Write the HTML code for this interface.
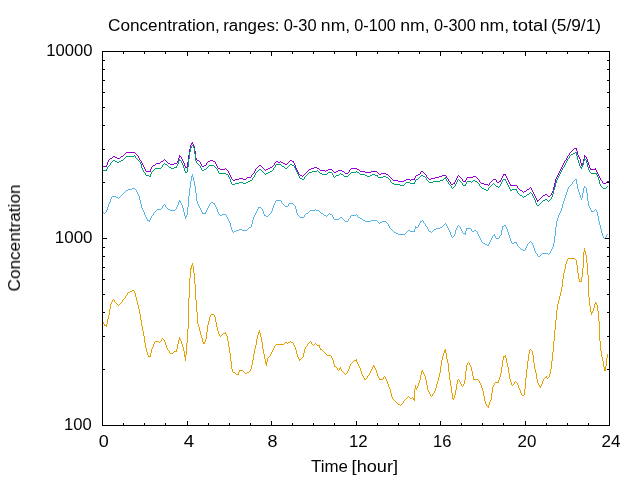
<!DOCTYPE html>
<html><head><meta charset="utf-8"><title>Concentration</title>
<style>html,body{margin:0;padding:0;background:#fff;overflow:hidden}body{width:640px;height:480px}</style>
</head><body>
<svg width="640" height="480" viewBox="0 0 640 480" shape-rendering="crispEdges" style="display:block">
<rect x="0" y="0" width="640" height="480" fill="#fff"/>
<path fill="#9400d3" d="M102 166h5v1h-5zM106 165h1v1h-1zM107 162h1v3h-1zM108 160h1v2h-1zM109 159h1v1h-1zM110 158h2v1h-2zM112 157h1v1h-1zM113 156h2v1h-2zM115 157h2v1h-2zM117 158h3v1h-3zM120 157h1v1h-1zM121 156h2v1h-2zM123 155h1v1h-1zM124 154h1v1h-1zM125 153h1v1h-1zM126 152h9v1h-9zM135 153h1v1h-1zM136 154h1v1h-1zM137 155h1v1h-1zM138 156h1v2h-1zM139 158h1v2h-1zM140 160h1v1h-1zM141 161h1v2h-1zM142 163h1v2h-1zM143 165h1v2h-1zM144 167h1v2h-1zM145 169h1v2h-1zM146 171h5v1h-5zM150 169h1v2h-1zM151 167h1v2h-1zM152 166h1v1h-1zM153 165h2v1h-2zM155 164h1v1h-1zM156 163h4v1h-4zM160 162h1v1h-1zM161 161h2v1h-2zM163 160h1v1h-1zM164 159h1v1h-1zM165 160h1v1h-1zM166 161h1v1h-1zM167 162h1v1h-1zM168 163h2v1h-2zM170 164h4v1h-4zM174 163h3v1h-3zM177 161h1v2h-1zM178 158h1v3h-1zM179 155h1v1h-1zM179 156h2v1h-2zM179 157h1v1h-1zM181 157h1v2h-1zM182 159h1v2h-1zM183 161h1v2h-1zM184 163h1v3h-1zM185 166h1v1h-1zM185 167h2v1h-2zM187 162h1v5h-1zM188 155h1v7h-1zM189 149h1v6h-1zM190 145h1v4h-1zM191 143h2v1h-2zM191 144h1v1h-1zM192 142h1v1h-1zM193 144h1v2h-1zM194 146h1v5h-1zM195 151h1v7h-1zM196 158h1v2h-1zM197 160h2v1h-2zM199 161h1v1h-1zM200 162h1v2h-1zM201 164h1v2h-1zM202 166h2v1h-2zM204 165h2v1h-2zM206 163h1v2h-1zM207 162h1v1h-1zM208 161h2v1h-2zM210 160h3v1h-3zM213 161h2v1h-2zM215 162h1v2h-1zM216 164h1v2h-1zM217 166h1v2h-1zM218 168h2v1h-2zM220 169h5v1h-5zM225 168h1v1h-1zM226 169h1v1h-1zM227 170h1v1h-1zM228 171h1v2h-1zM229 173h1v2h-1zM230 175h1v2h-1zM231 177h1v2h-1zM232 179h1v1h-1zM233 180h2v1h-2zM235 179h4v1h-4zM239 178h4v1h-4zM243 179h3v1h-3zM246 178h1v1h-1zM247 177h4v1h-4zM251 175h1v2h-1zM252 174h1v1h-1zM253 173h1v1h-1zM254 171h1v2h-1zM255 169h1v2h-1zM256 168h1v1h-1zM257 167h1v1h-1zM258 166h1v1h-1zM259 165h2v1h-2zM261 166h1v1h-1zM262 167h1v1h-1zM263 168h1v1h-1zM264 169h1v1h-1zM265 170h1v1h-1zM266 169h2v1h-2zM268 168h2v1h-2zM270 167h2v1h-2zM272 166h1v1h-1zM273 165h1v1h-1zM274 163h1v2h-1zM275 162h1v1h-1zM276 161h2v1h-2zM278 162h2v1h-2zM280 161h1v1h-1zM281 162h2v1h-2zM283 163h2v1h-2zM285 164h2v1h-2zM287 163h1v1h-1zM288 162h1v1h-1zM289 161h1v1h-1zM290 160h2v1h-2zM292 161h2v1h-2zM293 162h1v1h-1zM294 163h1v2h-1zM295 165h1v3h-1zM296 168h1v2h-1zM297 170h1v2h-1zM298 172h1v2h-1zM299 174h1v1h-1zM300 175h2v1h-2zM302 176h1v1h-1zM303 175h1v1h-1zM304 174h1v1h-1zM305 173h1v1h-1zM306 172h1v1h-1zM307 171h1v1h-1zM308 170h1v1h-1zM309 169h2v1h-2zM311 168h3v1h-3zM314 167h3v1h-3zM317 168h2v1h-2zM319 169h1v1h-1zM320 170h5v1h-5zM325 171h1v1h-1zM326 170h2v1h-2zM328 169h4v1h-4zM332 170h1v1h-1zM333 171h1v1h-1zM334 172h2v1h-2zM336 171h2v1h-2zM338 170h4v1h-4zM342 171h2v1h-2zM344 172h1v1h-1zM345 173h3v1h-3zM348 172h1v1h-1zM349 170h1v2h-1zM350 169h1v1h-1zM351 168h6v1h-6zM357 169h2v1h-2zM359 170h1v1h-1zM360 171h5v1h-5zM365 172h6v1h-6zM371 171h6v1h-6zM377 172h1v1h-1zM378 173h1v1h-1zM379 174h2v1h-2zM381 173h5v1h-5zM386 174h2v1h-2zM388 175h1v1h-1zM389 176h1v1h-1zM390 177h1v1h-1zM391 178h1v1h-1zM392 179h1v1h-1zM393 180h5v1h-5zM398 181h6v1h-6zM404 180h2v1h-2zM406 179h4v1h-4zM410 180h1v1h-1zM411 179h4v1h-4zM414 178h1v1h-1zM415 176h1v2h-1zM416 175h2v1h-2zM418 174h2v1h-2zM420 172h1v2h-1zM421 171h2v1h-2zM423 172h1v1h-1zM424 173h1v1h-1zM425 174h1v1h-1zM426 175h1v2h-1zM427 177h1v1h-1zM428 178h1v1h-1zM429 179h2v1h-2zM431 178h4v1h-4zM435 177h4v1h-4zM439 176h3v1h-3zM442 175h4v1h-4zM446 176h1v2h-1zM447 178h1v1h-1zM448 179h1v2h-1zM449 181h1v1h-1zM450 182h1v2h-1zM451 184h2v1h-2zM453 183h2v1h-2zM454 182h1v1h-1zM455 180h1v2h-1zM456 178h1v2h-1zM457 176h1v2h-1zM458 175h1v1h-1zM459 176h1v1h-1zM460 177h1v1h-1zM461 178h1v1h-1zM462 179h1v2h-1zM463 181h3v1h-3zM465 180h1v1h-1zM466 178h1v2h-1zM467 177h6v1h-6zM473 176h3v1h-3zM476 177h1v1h-1zM477 178h1v1h-1zM478 179h1v1h-1zM479 180h1v2h-1zM480 182h1v1h-1zM481 183h3v1h-3zM484 184h4v1h-4zM488 185h1v1h-1zM489 183h1v2h-1zM490 182h1v1h-1zM491 181h1v1h-1zM492 180h1v1h-1zM493 179h3v1h-3zM496 180h1v2h-1zM497 182h2v1h-2zM499 181h2v1h-2zM500 180h1v1h-1zM501 178h1v2h-1zM502 176h1v2h-1zM503 174h3v1h-3zM503 175h1v1h-1zM505 175h1v1h-1zM506 176h1v2h-1zM507 178h1v2h-1zM508 180h1v2h-1zM509 182h1v2h-1zM510 184h1v1h-1zM510 185h7v1h-7zM517 186h1v2h-1zM518 188h1v1h-1zM519 189h1v1h-1zM520 190h2v1h-2zM522 191h1v1h-1zM523 192h1v1h-1zM524 191h2v1h-2zM526 190h1v1h-1zM527 189h2v1h-2zM529 188h1v1h-1zM530 187h1v1h-1zM531 188h1v2h-1zM532 190h1v2h-1zM533 192h1v2h-1zM534 194h1v2h-1zM535 196h1v2h-1zM536 198h1v2h-1zM537 200h2v1h-2zM537 201h1v1h-1zM539 199h1v1h-1zM540 198h1v1h-1zM541 197h1v1h-1zM542 196h1v1h-1zM543 195h2v1h-2zM545 194h2v1h-2zM547 195h1v1h-1zM548 196h2v1h-2zM550 195h1v1h-1zM551 193h1v2h-1zM552 191h1v2h-1zM553 187h1v4h-1zM554 183h1v4h-1zM555 179h1v4h-1zM556 177h1v2h-1zM557 175h1v2h-1zM558 173h1v2h-1zM559 171h1v2h-1zM560 169h1v2h-1zM561 167h1v2h-1zM562 165h1v2h-1zM563 163h1v2h-1zM564 161h1v2h-1zM565 160h1v1h-1zM566 158h1v2h-1zM567 156h1v2h-1zM568 155h1v1h-1zM569 153h1v2h-1zM570 152h1v1h-1zM571 151h1v1h-1zM572 150h1v1h-1zM573 149h1v1h-1zM574 148h3v1h-3zM576 149h1v2h-1zM577 151h1v4h-1zM578 155h1v2h-1zM579 157h1v2h-1zM580 159h1v4h-1zM581 163h2v2h-2zM581 165h1v1h-1zM583 159h1v4h-1zM584 155h1v1h-1zM584 156h2v1h-2zM584 157h1v2h-1zM586 157h1v2h-1zM587 159h1v3h-1zM588 162h1v3h-1zM589 165h1v3h-1zM590 168h1v1h-1zM590 169h6v1h-6zM595 168h1v1h-1zM596 170h1v2h-1zM597 172h1v2h-1zM598 174h1v2h-1zM599 176h1v2h-1zM600 178h1v2h-1zM601 180h1v1h-1zM602 181h1v2h-1zM603 183h3v1h-3zM606 182h1v1h-1zM607 181h2v1h-2z"/>
<path fill="#009e73" d="M102 170h5v1h-5zM106 169h1v1h-1zM107 167h1v2h-1zM108 166h1v1h-1zM109 165h1v1h-1zM110 163h1v2h-1zM111 162h1v1h-1zM112 161h1v1h-1zM113 160h2v1h-2zM115 161h2v1h-2zM117 162h2v1h-2zM119 161h2v1h-2zM121 160h2v1h-2zM123 159h1v1h-1zM124 158h1v1h-1zM125 157h1v1h-1zM126 156h8v1h-8zM134 155h1v1h-1zM135 156h1v2h-1zM136 158h1v1h-1zM137 159h1v1h-1zM138 160h1v1h-1zM139 161h1v1h-1zM140 162h1v2h-1zM141 164h1v4h-1zM142 168h1v2h-1zM143 170h1v2h-1zM144 172h1v1h-1zM145 173h1v2h-1zM146 175h3v1h-3zM149 176h2v1h-2zM150 174h1v2h-1zM151 172h1v2h-1zM152 171h1v1h-1zM153 170h1v1h-1zM154 169h1v1h-1zM155 168h6v1h-6zM161 167h1v1h-1zM162 165h1v2h-1zM163 164h1v1h-1zM164 163h1v1h-1zM165 164h2v1h-2zM167 165h1v1h-1zM168 166h1v1h-1zM169 167h2v1h-2zM171 168h3v1h-3zM174 167h3v1h-3zM176 166h1v1h-1zM177 164h1v2h-1zM178 161h1v3h-1zM179 159h1v1h-1zM179 160h2v1h-2zM181 161h1v2h-1zM182 163h1v2h-1zM183 165h1v3h-1zM184 168h1v3h-1zM185 171h1v1h-1zM185 172h2v1h-2zM187 167h1v5h-1zM188 159h1v8h-1zM189 152h1v7h-1zM190 148h1v4h-1zM191 146h1v2h-1zM192 145h1v1h-1zM193 146h1v2h-1zM194 148h1v6h-1zM195 154h1v7h-1zM196 161h1v2h-1zM197 163h1v1h-1zM198 164h1v1h-1zM199 165h1v1h-1zM200 166h1v2h-1zM201 168h1v2h-1zM202 170h2v1h-2zM204 169h2v1h-2zM206 168h1v1h-1zM207 167h1v1h-1zM208 166h1v1h-1zM209 165h5v1h-5zM214 166h1v1h-1zM215 167h1v1h-1zM216 168h1v1h-1zM217 169h1v2h-1zM218 171h1v2h-1zM219 173h7v1h-7zM226 174h2v1h-2zM228 175h1v2h-1zM229 177h1v2h-1zM230 179h1v3h-1zM231 182h1v2h-1zM232 184h3v1h-3zM235 183h4v1h-4zM239 182h4v1h-4zM243 183h3v1h-3zM246 182h2v1h-2zM248 181h2v1h-2zM250 180h2v1h-2zM252 178h1v2h-1zM253 177h1v1h-1zM254 175h1v2h-1zM255 173h1v2h-1zM256 172h1v1h-1zM257 171h1v1h-1zM258 170h1v1h-1zM259 169h2v1h-2zM261 170h1v1h-1zM262 171h1v1h-1zM263 172h1v1h-1zM264 173h1v1h-1zM265 174h1v1h-1zM266 173h2v1h-2zM268 172h2v1h-2zM270 171h2v1h-2zM272 170h1v1h-1zM273 168h1v2h-1zM274 167h1v1h-1zM275 165h1v2h-1zM276 164h5v1h-5zM281 165h1v1h-1zM282 166h2v1h-2zM284 167h1v1h-1zM285 168h2v1h-2zM287 167h1v1h-1zM288 166h1v1h-1zM289 165h1v1h-1zM290 164h2v1h-2zM292 165h2v1h-2zM294 166h1v2h-1zM295 168h1v2h-1zM296 170h1v2h-1zM297 172h1v2h-1zM298 174h1v2h-1zM299 176h1v2h-1zM300 178h2v1h-2zM302 179h2v1h-2zM304 177h1v2h-1zM305 176h1v1h-1zM306 175h1v1h-1zM307 174h1v1h-1zM308 173h1v1h-1zM309 172h3v1h-3zM312 171h5v1h-5zM317 170h1v1h-1zM318 171h1v1h-1zM319 172h1v1h-1zM320 173h2v1h-2zM322 174h5v1h-5zM327 173h1v1h-1zM328 172h4v1h-4zM332 173h1v2h-1zM333 175h1v2h-1zM334 177h1v1h-1zM335 176h1v1h-1zM336 175h3v1h-3zM339 174h1v1h-1zM340 173h1v1h-1zM341 174h2v1h-2zM343 175h1v1h-1zM344 176h4v1h-4zM348 175h1v1h-1zM349 174h1v1h-1zM350 173h1v1h-1zM351 172h5v1h-5zM356 171h1v1h-1zM357 172h2v1h-2zM359 173h1v1h-1zM360 174h5v1h-5zM365 175h2v1h-2zM367 176h3v1h-3zM370 175h2v1h-2zM372 174h3v1h-3zM375 175h3v1h-3zM377 176h1v1h-1zM378 177h5v1h-5zM383 176h3v1h-3zM386 177h2v1h-2zM388 178h1v1h-1zM389 179h1v1h-1zM390 180h1v2h-1zM391 182h1v1h-1zM392 183h2v1h-2zM394 184h6v1h-6zM400 185h4v1h-4zM404 184h1v1h-1zM405 183h1v1h-1zM406 182h4v1h-4zM410 183h5v1h-5zM414 182h1v1h-1zM415 180h1v2h-1zM416 179h2v1h-2zM418 178h1v1h-1zM419 177h1v1h-1zM420 176h1v1h-1zM421 175h2v1h-2zM423 176h2v1h-2zM425 177h1v1h-1zM426 178h1v2h-1zM427 180h1v1h-1zM428 181h1v1h-1zM429 182h4v1h-4zM433 181h7v1h-7zM440 180h3v1h-3zM443 179h1v1h-1zM444 178h2v1h-2zM445 177h1v1h-1zM446 179h1v2h-1zM447 181h1v1h-1zM448 182h1v2h-1zM449 184h1v1h-1zM450 185h1v1h-1zM451 186h1v2h-1zM452 188h1v1h-1zM453 187h1v1h-1zM454 186h1v1h-1zM455 184h1v2h-1zM456 182h1v2h-1zM457 180h1v2h-1zM458 179h1v1h-1zM459 180h1v1h-1zM460 181h1v1h-1zM461 182h1v1h-1zM462 183h1v2h-1zM463 185h3v1h-3zM465 184h1v1h-1zM466 182h1v2h-1zM467 181h4v1h-4zM471 182h1v1h-1zM472 181h1v1h-1zM473 180h2v1h-2zM475 181h2v1h-2zM477 182h1v1h-1zM478 183h1v1h-1zM479 184h1v2h-1zM480 186h1v1h-1zM481 187h1v1h-1zM482 188h2v1h-2zM484 189h2v1h-2zM486 190h2v1h-2zM488 188h1v2h-1zM489 187h1v1h-1zM490 186h1v1h-1zM491 185h1v1h-1zM492 184h1v1h-1zM493 183h1v1h-1zM494 184h1v1h-1zM495 185h1v1h-1zM496 186h2v1h-2zM498 187h1v1h-1zM499 186h1v1h-1zM500 184h1v2h-1zM501 182h1v2h-1zM502 180h1v2h-1zM503 179h3v1h-3zM505 180h1v1h-1zM506 181h1v2h-1zM507 183h1v2h-1zM508 185h1v2h-1zM509 187h1v2h-1zM510 189h1v1h-1zM510 190h2v1h-2zM512 189h5v1h-5zM516 190h1v1h-1zM517 191h1v2h-1zM518 193h1v1h-1zM519 194h1v1h-1zM520 195h2v1h-2zM522 196h1v1h-1zM523 197h1v1h-1zM524 196h2v1h-2zM526 195h1v1h-1zM527 194h2v1h-2zM529 193h1v1h-1zM530 192h1v1h-1zM531 193h1v1h-1zM532 194h1v2h-1zM533 196h1v2h-1zM534 198h1v2h-1zM535 200h1v3h-1zM536 203h1v2h-1zM537 205h2v1h-2zM539 204h1v1h-1zM540 203h1v1h-1zM541 202h1v1h-1zM542 201h1v1h-1zM543 200h2v1h-2zM545 199h2v1h-2zM547 200h1v1h-1zM548 201h1v1h-1zM549 200h1v1h-1zM550 199h1v1h-1zM551 197h1v2h-1zM552 194h1v3h-1zM553 190h1v4h-1zM554 187h1v3h-1zM555 183h1v4h-1zM556 180h1v3h-1zM557 178h1v2h-1zM558 176h1v2h-1zM559 174h1v2h-1zM560 172h1v2h-1zM561 170h1v2h-1zM562 168h1v2h-1zM563 167h1v1h-1zM564 165h1v2h-1zM565 163h1v2h-1zM566 161h1v2h-1zM567 159h1v2h-1zM568 158h1v1h-1zM569 156h1v2h-1zM570 155h1v1h-1zM571 154h2v1h-2zM573 153h2v1h-2zM575 152h2v1h-2zM576 153h1v3h-1zM577 156h1v4h-1zM578 160h1v3h-1zM579 163h1v3h-1zM580 166h1v1h-1zM580 167h2v1h-2zM581 168h1v1h-1zM582 165h1v2h-1zM583 161h1v4h-1zM584 158h1v1h-1zM584 159h2v1h-2zM584 160h1v1h-1zM586 160h1v3h-1zM587 163h1v4h-1zM588 167h1v3h-1zM589 170h1v2h-1zM590 172h1v1h-1zM591 173h6v1h-6zM596 174h1v1h-1zM597 175h1v2h-1zM598 177h1v3h-1zM599 180h1v4h-1zM600 184h1v2h-1zM601 186h1v1h-1zM602 187h1v1h-1zM603 188h3v1h-3zM606 187h1v1h-1zM607 186h1v1h-1z"/>
<path fill="#56b4e9" d="M102 211h1v1h-1zM103 212h1v1h-1zM104 213h1v1h-1zM105 212h1v1h-1zM106 210h1v2h-1zM107 207h1v3h-1zM108 204h1v3h-1zM109 202h1v2h-1zM110 199h1v3h-1zM111 197h1v2h-1zM112 196h4v1h-4zM116 197h2v1h-2zM118 198h1v1h-1zM119 197h1v1h-1zM120 196h1v1h-1zM121 195h1v1h-1zM122 194h1v1h-1zM123 193h1v1h-1zM124 192h1v1h-1zM125 191h1v1h-1zM126 190h2v1h-2zM128 189h4v1h-4zM132 188h3v1h-3zM135 189h1v1h-1zM136 190h1v2h-1zM137 192h1v2h-1zM138 194h1v2h-1zM139 196h1v4h-1zM140 200h1v4h-1zM141 204h1v4h-1zM142 208h1v2h-1zM143 210h1v2h-1zM144 212h1v3h-1zM145 215h1v2h-1zM146 217h1v2h-1zM147 219h1v1h-1zM147 220h3v1h-3zM149 221h1v1h-1zM150 218h1v2h-1zM151 216h1v2h-1zM152 215h1v1h-1zM153 213h1v2h-1zM154 212h1v1h-1zM155 211h1v1h-1zM156 210h1v1h-1zM157 209h4v1h-4zM161 208h1v1h-1zM162 206h1v2h-1zM163 205h1v1h-1zM164 204h1v1h-1zM165 205h1v2h-1zM166 207h1v1h-1zM167 208h1v1h-1zM168 209h2v1h-2zM170 210h5v1h-5zM175 209h1v1h-1zM176 207h1v2h-1zM177 205h1v2h-1zM178 202h1v3h-1zM179 200h1v1h-1zM179 201h2v1h-2zM180 202h1v1h-1zM181 203h1v2h-1zM182 205h1v3h-1zM183 208h1v4h-1zM184 212h1v4h-1zM185 216h2v1h-2zM185 217h1v2h-1zM186 215h1v1h-1zM187 207h1v8h-1zM188 196h1v11h-1zM189 188h1v8h-1zM190 181h1v7h-1zM191 176h2v1h-2zM191 177h1v4h-1zM192 174h1v2h-1zM193 177h1v4h-1zM194 181h1v5h-1zM195 186h1v7h-1zM196 193h1v8h-1zM197 201h1v3h-1zM198 204h1v2h-1zM199 206h1v2h-1zM200 208h1v2h-1zM201 210h1v2h-1zM202 212h1v1h-1zM202 213h4v1h-4zM205 212h1v1h-1zM206 210h1v2h-1zM207 208h1v2h-1zM208 206h1v2h-1zM209 204h1v2h-1zM210 203h1v1h-1zM211 202h2v1h-2zM213 203h2v1h-2zM214 204h1v1h-1zM215 205h1v2h-1zM216 207h1v2h-1zM217 209h1v3h-1zM218 212h1v2h-1zM219 214h1v1h-1zM220 215h2v1h-2zM222 214h4v1h-4zM226 215h1v2h-1zM227 217h1v2h-1zM228 219h1v2h-1zM229 221h1v2h-1zM230 223h1v4h-1zM231 227h1v3h-1zM232 230h1v2h-1zM233 232h1v1h-1zM234 231h2v1h-2zM236 230h3v1h-3zM239 229h3v1h-3zM242 230h5v1h-5zM247 229h1v1h-1zM248 228h1v1h-1zM249 227h2v1h-2zM251 224h1v3h-1zM252 220h1v4h-1zM253 217h1v3h-1zM254 215h1v2h-1zM255 213h1v2h-1zM256 211h1v2h-1zM257 209h1v2h-1zM258 207h3v1h-3zM258 208h1v1h-1zM261 208h1v1h-1zM262 209h1v2h-1zM263 211h1v3h-1zM264 214h1v1h-1zM264 215h2v1h-2zM266 216h2v1h-2zM268 215h1v1h-1zM269 214h1v1h-1zM270 213h1v1h-1zM271 211h1v2h-1zM272 208h1v3h-1zM273 205h1v3h-1zM274 203h1v2h-1zM275 201h1v2h-1zM276 200h5v1h-5zM281 201h1v2h-1zM282 203h1v1h-1zM283 204h1v1h-1zM284 205h1v1h-1zM285 206h3v1h-3zM288 204h1v2h-1zM289 203h4v1h-4zM293 204h1v1h-1zM294 205h1v1h-1zM295 206h1v3h-1zM296 209h1v4h-1zM297 213h1v2h-1zM298 215h1v1h-1zM299 216h1v1h-1zM300 217h4v1h-4zM304 215h1v2h-1zM305 214h1v1h-1zM306 213h2v1h-2zM308 212h1v1h-1zM309 211h1v1h-1zM310 210h5v1h-5zM315 209h1v1h-1zM316 210h3v1h-3zM319 211h1v1h-1zM320 212h1v1h-1zM321 213h2v1h-2zM323 214h1v1h-1zM324 215h2v1h-2zM326 216h1v1h-1zM327 215h1v1h-1zM328 214h1v1h-1zM329 213h1v1h-1zM330 214h2v1h-2zM332 215h1v2h-1zM333 217h1v2h-1zM334 219h5v1h-5zM339 218h1v1h-1zM340 217h2v1h-2zM342 218h1v1h-1zM343 219h1v1h-1zM344 220h1v1h-1zM345 221h3v1h-3zM348 219h1v2h-1zM349 218h1v1h-1zM350 216h1v2h-1zM351 215h5v1h-5zM356 214h1v1h-1zM357 215h1v2h-1zM358 217h2v1h-2zM360 218h2v1h-2zM362 219h1v1h-1zM363 220h2v1h-2zM365 221h6v1h-6zM371 220h6v1h-6zM377 221h1v1h-1zM378 222h1v1h-1zM379 223h1v1h-1zM380 222h2v1h-2zM382 221h4v1h-4zM386 222h1v1h-1zM387 223h1v1h-1zM388 224h1v2h-1zM389 226h1v2h-1zM390 228h1v1h-1zM391 229h1v1h-1zM392 230h1v1h-1zM393 231h1v1h-1zM394 232h2v1h-2zM396 233h2v1h-2zM398 234h7v1h-7zM405 233h1v1h-1zM406 232h1v1h-1zM407 231h1v1h-1zM408 230h2v1h-2zM410 231h5v1h-5zM414 229h1v2h-1zM415 226h1v1h-1zM415 227h3v1h-3zM415 228h1v1h-1zM418 225h1v2h-1zM419 223h1v2h-1zM420 221h2v1h-2zM420 222h1v1h-1zM422 220h1v1h-1zM423 221h1v2h-1zM424 223h1v1h-1zM425 224h1v2h-1zM426 226h1v1h-1zM427 227h1v2h-1zM428 229h1v2h-1zM429 231h2v1h-2zM431 232h1v1h-1zM432 231h1v1h-1zM433 230h1v1h-1zM434 229h2v1h-2zM436 228h4v1h-4zM440 227h2v1h-2zM442 226h1v1h-1zM443 225h1v1h-1zM444 224h1v1h-1zM445 223h1v1h-1zM446 224h1v2h-1zM447 226h1v2h-1zM448 228h1v2h-1zM449 230h1v2h-1zM450 232h1v3h-1zM451 235h1v2h-1zM452 237h1v1h-1zM453 236h1v1h-1zM454 234h1v2h-1zM455 230h1v4h-1zM456 228h1v2h-1zM457 226h1v2h-1zM458 225h1v1h-1zM459 226h1v1h-1zM460 227h1v2h-1zM461 229h1v2h-1zM462 231h1v2h-1zM463 233h3v1h-3zM465 231h1v2h-1zM465 234h1v1h-1zM466 228h5v1h-5zM466 229h1v2h-1zM471 229h1v2h-1zM472 231h2v1h-2zM474 230h2v1h-2zM476 231h1v1h-1zM477 232h1v2h-1zM478 234h1v2h-1zM479 236h1v2h-1zM480 238h1v2h-1zM481 240h1v2h-1zM482 242h1v1h-1zM483 243h2v1h-2zM485 244h2v1h-2zM487 245h2v1h-2zM488 244h1v1h-1zM489 242h1v2h-1zM490 240h1v2h-1zM491 238h1v2h-1zM492 236h1v2h-1zM493 235h2v1h-2zM494 234h1v1h-1zM495 236h1v2h-1zM496 238h3v1h-3zM499 236h1v2h-1zM500 235h1v1h-1zM501 230h1v5h-1zM502 226h2v1h-2zM502 227h1v3h-1zM504 225h2v1h-2zM505 226h1v1h-1zM506 227h1v2h-1zM507 229h1v3h-1zM508 232h1v3h-1zM509 235h1v3h-1zM510 238h1v3h-1zM511 241h1v2h-1zM512 243h2v1h-2zM514 242h3v1h-3zM516 243h1v1h-1zM517 244h1v2h-1zM518 246h1v1h-1zM519 247h1v1h-1zM520 248h1v1h-1zM521 249h2v1h-2zM523 250h2v1h-2zM525 248h1v2h-1zM526 246h1v2h-1zM527 244h1v2h-1zM528 243h1v1h-1zM529 242h1v1h-1zM530 241h1v1h-1zM531 242h1v1h-1zM532 243h1v2h-1zM533 245h1v3h-1zM534 248h1v3h-1zM535 251h1v2h-1zM536 253h1v1h-1zM537 254h1v2h-1zM538 256h2v1h-2zM540 255h1v1h-1zM541 254h1v1h-1zM542 253h6v1h-6zM548 254h1v1h-1zM549 253h1v1h-1zM550 251h1v2h-1zM551 249h1v2h-1zM552 247h1v2h-1zM553 243h1v4h-1zM554 236h1v7h-1zM555 227h1v9h-1zM556 221h1v6h-1zM557 218h1v3h-1zM558 215h1v3h-1zM559 213h1v2h-1zM560 211h1v2h-1zM561 208h1v3h-1zM562 204h1v4h-1zM563 201h1v3h-1zM564 198h1v3h-1zM565 195h1v3h-1zM566 192h1v3h-1zM567 189h1v3h-1zM568 187h1v2h-1zM569 186h1v1h-1zM570 185h1v1h-1zM571 184h1v1h-1zM572 182h1v2h-1zM573 181h1v1h-1zM574 180h1v1h-1zM575 179h2v1h-2zM576 180h1v4h-1zM577 184h1v5h-1zM578 189h1v3h-1zM579 192h1v3h-1zM580 195h1v3h-1zM581 198h1v2h-1zM582 193h1v5h-1zM583 188h1v5h-1zM584 186h1v1h-1zM584 187h2v1h-2zM586 188h1v5h-1zM587 193h1v8h-1zM588 201h1v5h-1zM589 206h1v2h-1zM590 208h1v2h-1zM591 210h1v1h-1zM591 211h3v1h-3zM594 210h1v1h-1zM595 209h1v1h-1zM596 210h1v2h-1zM597 212h1v4h-1zM598 216h1v5h-1zM599 221h1v4h-1zM600 225h1v4h-1zM601 229h1v4h-1zM602 233h1v3h-1zM603 236h1v2h-1zM604 238h2v1h-2zM605 237h1v1h-1zM606 235h1v2h-1zM607 234h1v1h-1z"/>
<path fill="#e69f00" d="M102 320h1v2h-1zM103 322h1v2h-1zM104 324h1v1h-1zM104 325h3v1h-3zM106 324h1v1h-1zM106 326h1v1h-1zM107 319h1v5h-1zM108 315h1v4h-1zM109 309h1v6h-1zM110 304h1v5h-1zM111 302h1v2h-1zM112 300h1v2h-1zM113 299h1v1h-1zM114 300h1v2h-1zM115 302h1v1h-1zM116 303h1v1h-1zM117 304h1v1h-1zM118 305h1v1h-1zM119 304h1v1h-1zM120 303h1v1h-1zM121 302h1v1h-1zM122 300h1v2h-1zM123 299h1v1h-1zM124 298h1v1h-1zM125 296h1v2h-1zM126 295h1v1h-1zM127 293h1v2h-1zM128 292h2v1h-2zM130 291h2v1h-2zM132 290h2v1h-2zM134 291h1v2h-1zM135 293h1v4h-1zM136 297h1v4h-1zM137 301h1v4h-1zM138 305h1v4h-1zM139 309h1v5h-1zM140 314h1v6h-1zM141 320h1v6h-1zM142 326h1v5h-1zM143 331h1v5h-1zM144 336h1v7h-1zM145 343h1v5h-1zM146 348h1v4h-1zM147 352h1v3h-1zM148 355h1v1h-1zM148 356h3v1h-3zM150 353h1v3h-1zM151 349h1v4h-1zM152 347h1v2h-1zM153 344h1v3h-1zM154 342h1v2h-1zM155 341h4v1h-4zM159 342h1v1h-1zM160 341h1v1h-1zM161 339h1v2h-1zM162 338h1v1h-1zM163 339h1v1h-1zM164 340h1v2h-1zM165 342h1v3h-1zM166 345h1v3h-1zM167 348h1v2h-1zM168 350h1v1h-1zM169 351h1v2h-1zM170 353h3v1h-3zM173 352h1v1h-1zM174 351h3v1h-3zM176 349h1v2h-1zM177 344h1v5h-1zM178 340h1v4h-1zM179 337h1v2h-1zM179 339h2v1h-2zM180 340h1v1h-1zM181 341h1v3h-1zM182 344h1v3h-1zM183 347h1v4h-1zM184 351h1v4h-1zM184 355h2v2h-2zM185 357h1v4h-1zM186 343h1v12h-1zM187 329h1v14h-1zM188 298h1v31h-1zM189 278h1v20h-1zM190 268h2v1h-2zM190 269h1v9h-1zM191 265h2v1h-2zM191 266h1v2h-1zM192 263h1v2h-1zM193 266h1v7h-1zM194 273h1v11h-1zM195 284h1v16h-1zM196 300h1v12h-1zM197 312h1v12h-1zM198 324h1v3h-1zM199 327h1v4h-1zM200 331h1v4h-1zM201 335h1v3h-1zM202 338h1v4h-1zM203 342h2v2h-2zM205 339h1v3h-1zM206 332h1v7h-1zM207 325h1v7h-1zM208 321h1v4h-1zM209 317h1v4h-1zM210 315h1v2h-1zM211 314h3v1h-3zM214 315h1v2h-1zM215 317h1v5h-1zM216 322h1v5h-1zM217 327h1v4h-1zM218 331h1v3h-1zM219 334h1v2h-1zM220 336h1v1h-1zM221 335h1v1h-1zM222 334h1v1h-1zM223 333h3v1h-3zM225 332h1v1h-1zM226 334h1v2h-1zM227 336h1v5h-1zM228 341h1v6h-1zM229 347h1v6h-1zM230 353h1v8h-1zM231 361h1v8h-1zM232 369h1v3h-1zM233 372h2v1h-2zM235 373h1v1h-1zM236 374h3v1h-3zM238 372h1v2h-1zM239 370h4v1h-4zM239 371h1v1h-1zM243 371h1v1h-1zM244 372h1v1h-1zM245 373h2v1h-2zM247 372h2v1h-2zM249 371h1v1h-1zM250 369h1v2h-1zM251 365h1v4h-1zM252 360h1v5h-1zM253 354h1v6h-1zM254 349h1v5h-1zM255 345h1v4h-1zM256 339h1v6h-1zM257 335h1v4h-1zM258 332h2v1h-2zM258 333h1v2h-1zM259 330h1v2h-1zM260 333h1v4h-1zM261 337h1v5h-1zM262 342h1v7h-1zM263 349h1v5h-1zM264 354h1v5h-1zM265 359h1v3h-1zM265 362h2v2h-2zM266 364h1v2h-1zM267 358h1v4h-1zM268 357h1v1h-1zM269 356h1v1h-1zM270 354h1v2h-1zM271 352h1v2h-1zM272 350h1v2h-1zM273 348h1v2h-1zM274 346h1v2h-1zM275 345h1v1h-1zM276 344h8v1h-8zM284 343h1v1h-1zM285 342h2v1h-2zM287 343h1v1h-1zM288 342h2v1h-2zM290 341h1v1h-1zM291 342h2v1h-2zM293 343h1v2h-1zM294 345h1v2h-1zM295 347h1v3h-1zM296 350h1v4h-1zM297 354h1v3h-1zM298 357h1v2h-1zM299 359h2v1h-2zM299 360h1v1h-1zM301 358h1v1h-1zM302 357h1v1h-1zM303 353h1v4h-1zM304 349h1v4h-1zM305 347h1v2h-1zM306 346h1v1h-1zM307 344h1v2h-1zM308 343h1v1h-1zM309 342h1v1h-1zM310 341h1v1h-1zM311 342h1v2h-1zM312 344h1v1h-1zM313 345h1v1h-1zM314 344h1v1h-1zM315 343h1v1h-1zM316 344h1v1h-1zM317 345h3v1h-3zM319 346h1v2h-1zM320 348h1v1h-1zM320 349h2v1h-2zM322 350h1v1h-1zM323 351h1v1h-1zM324 352h1v1h-1zM325 353h1v1h-1zM326 354h1v1h-1zM327 355h4v1h-4zM331 356h1v2h-1zM332 358h1v2h-1zM333 360h1v4h-1zM334 364h1v2h-1zM334 366h2v1h-2zM336 367h1v1h-1zM337 368h1v2h-1zM338 370h1v1h-1zM339 368h2v1h-2zM339 369h1v1h-1zM340 367h1v1h-1zM341 369h1v2h-1zM342 371h1v1h-1zM343 372h1v1h-1zM344 373h1v1h-1zM345 374h1v1h-1zM346 373h1v1h-1zM347 371h1v2h-1zM348 369h1v2h-1zM349 366h1v3h-1zM350 364h1v2h-1zM351 363h1v1h-1zM352 362h1v1h-1zM353 361h1v1h-1zM354 360h3v1h-3zM356 359h1v1h-1zM356 361h1v1h-1zM357 362h1v2h-1zM358 364h1v2h-1zM359 366h1v2h-1zM360 368h1v3h-1zM361 371h1v3h-1zM362 374h1v2h-1zM363 376h1v2h-1zM364 378h1v1h-1zM364 379h2v1h-2zM366 378h1v1h-1zM367 376h1v2h-1zM368 375h1v1h-1zM369 373h1v2h-1zM370 371h1v2h-1zM371 369h1v2h-1zM372 367h1v2h-1zM373 365h1v1h-1zM373 366h2v1h-2zM374 367h1v1h-1zM375 368h1v2h-1zM376 370h1v3h-1zM377 373h1v3h-1zM378 376h1v2h-1zM379 378h1v1h-1zM379 379h4v1h-4zM383 377h1v2h-1zM384 376h1v1h-1zM385 377h1v2h-1zM386 379h1v2h-1zM387 381h1v3h-1zM388 384h1v3h-1zM389 387h1v2h-1zM390 389h1v4h-1zM391 393h1v4h-1zM392 397h1v2h-1zM393 399h1v1h-1zM394 400h1v1h-1zM395 401h1v1h-1zM396 402h1v1h-1zM397 403h1v1h-1zM398 404h2v1h-2zM400 405h1v1h-1zM401 404h1v1h-1zM402 403h1v1h-1zM403 401h1v2h-1zM404 400h1v1h-1zM405 399h1v1h-1zM406 398h1v1h-1zM407 397h1v1h-1zM408 396h1v1h-1zM409 397h1v1h-1zM410 398h2v1h-2zM412 397h1v1h-1zM413 398h2v2h-2zM414 389h1v9h-1zM414 400h1v1h-1zM415 385h1v3h-1zM415 388h2v1h-2zM416 389h1v1h-1zM417 386h1v2h-1zM418 383h1v3h-1zM419 380h1v3h-1zM420 375h1v5h-1zM421 371h2v1h-2zM421 372h1v3h-1zM422 370h1v1h-1zM423 372h1v2h-1zM424 374h1v2h-1zM425 376h1v4h-1zM426 380h1v5h-1zM427 385h1v5h-1zM428 390h1v2h-1zM429 392h1v2h-1zM430 394h1v2h-1zM431 396h1v1h-1zM432 394h1v2h-1zM433 393h1v1h-1zM434 391h1v2h-1zM435 388h1v3h-1zM436 384h1v4h-1zM437 381h1v3h-1zM438 377h1v4h-1zM439 373h1v4h-1zM440 366h1v7h-1zM441 360h1v6h-1zM442 356h1v4h-1zM443 353h1v3h-1zM444 350h2v3h-2zM445 349h1v1h-1zM446 353h1v6h-1zM447 359h1v4h-1zM448 363h1v9h-1zM449 372h1v8h-1zM450 380h1v6h-1zM451 386h1v7h-1zM452 393h1v5h-1zM452 398h2v1h-2zM453 399h1v1h-1zM454 395h1v3h-1zM455 390h1v5h-1zM456 384h1v6h-1zM457 380h1v4h-1zM458 379h1v1h-1zM459 380h1v2h-1zM460 382h1v2h-1zM461 384h1v2h-1zM462 386h1v1h-1zM463 384h1v2h-1zM464 380h1v4h-1zM465 371h1v9h-1zM466 365h1v6h-1zM467 363h1v2h-1zM468 362h1v1h-1zM469 363h1v2h-1zM470 365h1v2h-1zM471 367h1v4h-1zM472 371h1v5h-1zM473 376h1v3h-1zM473 379h5v1h-5zM478 380h1v1h-1zM479 381h1v2h-1zM480 383h1v2h-1zM481 385h1v3h-1zM482 388h1v3h-1zM483 391h1v5h-1zM484 396h1v5h-1zM485 401h1v3h-1zM486 404h1v2h-1zM487 406h2v1h-2zM488 405h1v1h-1zM488 407h1v1h-1zM489 402h1v3h-1zM490 400h1v2h-1zM491 393h1v7h-1zM492 387h1v6h-1zM493 385h1v2h-1zM494 383h1v2h-1zM495 382h4v1h-4zM498 380h1v2h-1zM499 377h1v3h-1zM500 373h1v4h-1zM501 367h1v6h-1zM502 360h1v7h-1zM503 356h3v1h-3zM503 357h1v3h-1zM505 355h1v1h-1zM505 357h1v1h-1zM506 358h1v5h-1zM507 363h1v4h-1zM508 367h1v6h-1zM509 373h1v6h-1zM510 379h1v3h-1zM511 382h1v3h-1zM512 385h1v1h-1zM513 384h1v1h-1zM514 382h1v2h-1zM515 381h1v1h-1zM516 382h1v1h-1zM517 383h1v2h-1zM518 385h1v3h-1zM519 388h1v2h-1zM520 390h1v3h-1zM521 393h1v2h-1zM522 395h2v1h-2zM524 389h1v6h-1zM525 378h1v11h-1zM526 369h1v9h-1zM527 361h1v8h-1zM528 354h1v7h-1zM529 350h1v4h-1zM530 349h1v1h-1zM531 350h1v1h-1zM532 351h1v4h-1zM533 355h1v8h-1zM534 363h1v6h-1zM535 369h1v4h-1zM536 373h1v6h-1zM537 379h1v4h-1zM538 383h1v2h-1zM539 385h1v1h-1zM539 386h2v1h-2zM540 387h1v1h-1zM541 384h1v2h-1zM542 381h1v3h-1zM543 379h1v2h-1zM544 378h1v1h-1zM545 377h2v1h-2zM546 376h1v1h-1zM547 378h1v1h-1zM548 377h1v1h-1zM549 374h1v3h-1zM550 369h1v5h-1zM551 361h1v8h-1zM552 352h1v9h-1zM553 341h1v11h-1zM554 330h1v11h-1zM555 320h1v10h-1zM556 310h1v10h-1zM557 304h1v6h-1zM558 300h1v4h-1zM559 296h1v4h-1zM560 292h1v4h-1zM561 287h1v5h-1zM562 279h1v8h-1zM563 273h1v6h-1zM564 269h1v4h-1zM565 264h1v5h-1zM566 261h1v3h-1zM567 259h1v2h-1zM568 258h7v1h-7zM575 259h1v1h-1zM576 260h1v5h-1zM577 265h1v8h-1zM578 273h1v6h-1zM579 279h1v2h-1zM579 281h3v1h-3zM581 277h1v4h-1zM582 268h1v9h-1zM583 252h1v16h-1zM584 248h1v3h-1zM584 251h2v1h-2zM585 252h1v3h-1zM586 255h1v8h-1zM587 263h1v12h-1zM588 275h1v22h-1zM589 297h1v9h-1zM590 306h1v6h-1zM591 312h2v1h-2zM591 313h1v2h-1zM592 311h1v1h-1zM593 308h1v3h-1zM594 304h1v4h-1zM595 302h1v1h-1zM595 303h2v1h-2zM596 304h1v1h-1zM597 305h1v6h-1zM598 311h1v10h-1zM599 321h1v20h-1zM600 341h1v10h-1zM601 351h1v6h-1zM602 357h1v4h-1zM603 361h1v6h-1zM604 367h2v4h-2zM605 366h1v1h-1zM606 358h1v8h-1zM607 354h1v4h-1z"/>
<path d="M102.5,425.5v-4.5M102.5,51.5v4.5M123.5,425.5v-2.5M123.5,51.5v2.5M144.5,425.5v-2.5M144.5,51.5v2.5M165.5,425.5v-2.5M165.5,51.5v2.5M187.5,425.5v-4.5M187.5,51.5v4.5M208.5,425.5v-2.5M208.5,51.5v2.5M229.5,425.5v-2.5M229.5,51.5v2.5M250.5,425.5v-2.5M250.5,51.5v2.5M271.5,425.5v-4.5M271.5,51.5v4.5M292.5,425.5v-2.5M292.5,51.5v2.5M313.5,425.5v-2.5M313.5,51.5v2.5M334.5,425.5v-2.5M334.5,51.5v2.5M356.5,425.5v-4.5M356.5,51.5v4.5M377.5,425.5v-2.5M377.5,51.5v2.5M398.5,425.5v-2.5M398.5,51.5v2.5M419.5,425.5v-2.5M419.5,51.5v2.5M440.5,425.5v-4.5M440.5,51.5v4.5M461.5,425.5v-2.5M461.5,51.5v2.5M482.5,425.5v-2.5M482.5,51.5v2.5M503.5,425.5v-2.5M503.5,51.5v2.5M525.5,425.5v-4.5M525.5,51.5v4.5M546.5,425.5v-2.5M546.5,51.5v2.5M567.5,425.5v-2.5M567.5,51.5v2.5M588.5,425.5v-2.5M588.5,51.5v2.5M609.5,425.5v-4.5M609.5,51.5v4.5M102.5,425.5h4.5M609.5,425.5h-4.5M102.5,369.5h2.5M609.5,369.5h-2.5M102.5,336.5h2.5M609.5,336.5h-2.5M102.5,312.5h2.5M609.5,312.5h-2.5M102.5,294.5h2.5M609.5,294.5h-2.5M102.5,279.5h2.5M609.5,279.5h-2.5M102.5,267.5h2.5M609.5,267.5h-2.5M102.5,256.5h2.5M609.5,256.5h-2.5M102.5,247.5h2.5M609.5,247.5h-2.5M102.5,238.5h4.5M609.5,238.5h-4.5M102.5,182.5h2.5M609.5,182.5h-2.5M102.5,149.5h2.5M609.5,149.5h-2.5M102.5,125.5h2.5M609.5,125.5h-2.5M102.5,107.5h2.5M609.5,107.5h-2.5M102.5,92.5h2.5M609.5,92.5h-2.5M102.5,80.5h2.5M609.5,80.5h-2.5M102.5,69.5h2.5M609.5,69.5h-2.5M102.5,60.5h2.5M609.5,60.5h-2.5M102.5,51.5h4.5M609.5,51.5h-4.5" stroke="#000" stroke-width="1" fill="none"/>
<rect x="102.5" y="51.5" width="507.0" height="374.0" fill="none" stroke="#000" stroke-width="1"/>
<g style="font-family:'Liberation Sans',sans-serif;font-size:16px;fill:#000" opacity="0.999">
<text x="107.98" y="30.55" textLength="111.80" lengthAdjust="spacingAndGlyphs">Concentration,</text>
<text x="223.20" y="30.55" textLength="56.36" lengthAdjust="spacingAndGlyphs">ranges:</text>
<text x="283.72" y="30.55" textLength="32.92" lengthAdjust="spacingAndGlyphs">0-30</text>
<text x="320.88" y="30.55" textLength="29.24" lengthAdjust="spacingAndGlyphs">nm,</text>
<text x="354.33" y="30.55" textLength="41.45" lengthAdjust="spacingAndGlyphs">0-100</text>
<text x="400.27" y="30.55" textLength="29.44" lengthAdjust="spacingAndGlyphs">nm,</text>
<text x="434.02" y="30.55" textLength="41.68" lengthAdjust="spacingAndGlyphs">0-300</text>
<text x="479.67" y="30.55" textLength="29.43" lengthAdjust="spacingAndGlyphs">nm,</text>
<text x="512.57" y="30.55" textLength="34.94" lengthAdjust="spacingAndGlyphs">total</text>
<text x="551.08" y="30.55" textLength="49.93" lengthAdjust="spacingAndGlyphs">(5/9/1)</text>
<text x="46.15" y="56.00" textLength="46.29" lengthAdjust="spacingAndGlyphs">10000</text>
<text x="54.84" y="243.00" textLength="37.71" lengthAdjust="spacingAndGlyphs">1000</text>
<text x="63.96" y="430.00" textLength="27.68" lengthAdjust="spacingAndGlyphs">100</text>
<text x="98.68" y="446.90" textLength="10.00" lengthAdjust="spacingAndGlyphs">0</text>
<text x="183.68" y="446.90" textLength="10.40" lengthAdjust="spacingAndGlyphs">4</text>
<text x="267.47" y="446.90" textLength="10.01" lengthAdjust="spacingAndGlyphs">8</text>
<text x="348.97" y="446.90" textLength="18.71" lengthAdjust="spacingAndGlyphs">12</text>
<text x="433.05" y="446.90" textLength="18.34" lengthAdjust="spacingAndGlyphs">16</text>
<text x="517.57" y="446.90" textLength="18.87" lengthAdjust="spacingAndGlyphs">20</text>
<text x="601.55" y="446.90" textLength="18.96" lengthAdjust="spacingAndGlyphs">24</text>
<text x="311.07" y="472.00" textLength="36.89" lengthAdjust="spacingAndGlyphs">Time</text>
<text x="351.60" y="472.00" textLength="46.37" lengthAdjust="spacingAndGlyphs">[hour]</text>
<text transform="translate(20.00,291.50) rotate(-90)" textLength="107.01" lengthAdjust="spacingAndGlyphs">Concentration</text>
</g>
</svg>
</body></html>
